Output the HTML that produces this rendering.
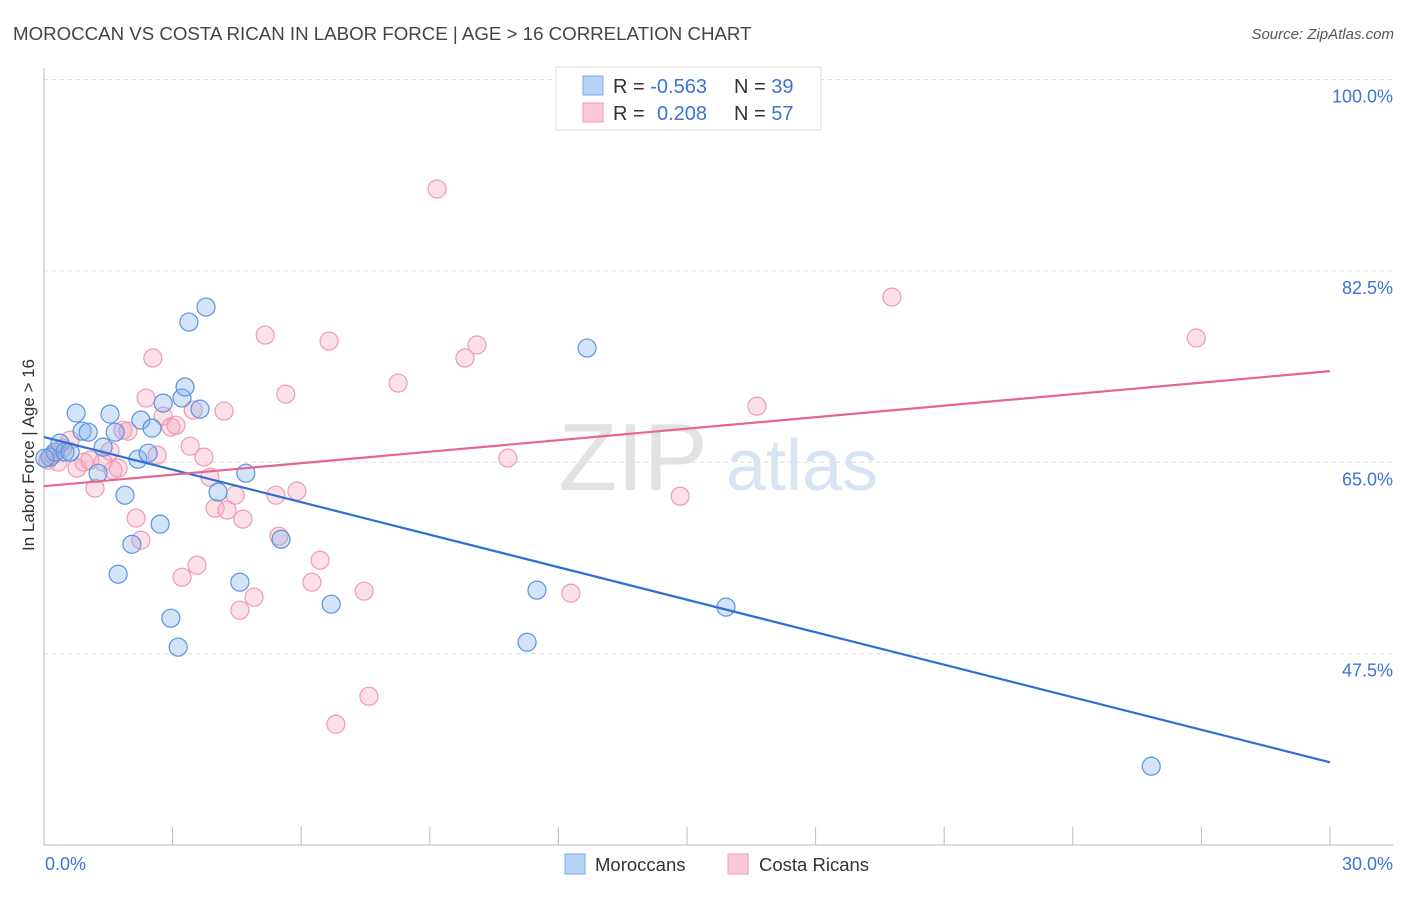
<!DOCTYPE html>
<html><head><meta charset="utf-8"><style>
body{margin:0;background:#fff;font-family:"Liberation Sans",sans-serif}
svg text{font-family:"Liberation Sans",sans-serif}
</style></head><body>
<svg id="chart" width="1406" height="892" viewBox="0 0 1406 892" xmlns="http://www.w3.org/2000/svg">
<text x="13" y="40" font-size="18.7" fill="#444">MOROCCAN VS COSTA RICAN IN LABOR FORCE | AGE &gt; 16 CORRELATION CHART</text>
<text x="1394" y="39" font-size="15" fill="#555" text-anchor="end" font-style="italic">Source: ZipAtlas.com</text>
<g>
<text x="633" y="490" font-size="96" fill="#e2e2e2" text-anchor="middle" font-family="Liberation Serif, serif">ZIP</text>
<text x="802" y="490" font-size="72" fill="#d8e4f4" text-anchor="middle">atlas</text>
</g>
<g id="grid"></g>
<g id="axes"></g>
<g id="marks"></g>
<text transform="translate(34,455) rotate(-90)" font-size="17" fill="#333" text-anchor="middle">In Labor Force | Age &gt; 16</text>
<g>
<rect x="556" y="67" width="265" height="63" fill="#fff" stroke="#ddd"/>
<rect x="583" y="76" width="20" height="19" fill="#b9d3f6" stroke="#7aa7e6"/>
<rect x="583" y="103" width="20" height="19" fill="#fcc9d7" stroke="#f09ab4"/>
<text x="613" y="93" font-size="20" fill="#333">R = <tspan fill="#3b74d6">-0.563</tspan><tspan x="734">N = </tspan><tspan fill="#3b74d6">39</tspan></text>
<text x="613" y="120" font-size="20" fill="#333">R = <tspan x="657" fill="#3b74d6">0.208</tspan><tspan x="734">N = </tspan><tspan fill="#3b74d6">57</tspan></text>
</g>
<g>
<rect x="565" y="854" width="20" height="20" fill="#b9d3f6" stroke="#7aa7e6"/>
<text x="595" y="871" font-size="18.5" fill="#333">Moroccans</text>
<rect x="728" y="854" width="20" height="20" fill="#fcc9d7" stroke="#f09ab4"/>
<text x="759" y="871" font-size="18.5" fill="#333">Costa Ricans</text>
</g>
</svg>
<script>
const yTicks=[47.5,65.0,82.5,100.0];
const yTickLabels=["47.5%","65.0%","82.5%","100.0%"];
const xLabels=["0.0%","30.0%"];
const blueX=[0.14,0.26,0.37,0.49,0.61,0.75,0.89,1.03,1.26,1.38,1.54,1.66,1.73,1.89,2.05,2.19,2.26,2.43,2.52,2.71,2.78,2.96,3.13,3.22,3.29,3.38,3.64,3.78,4.06,4.57,4.71,5.53,6.70,11.27,11.50,12.67,15.91,25.83,0.02];
const blueY=[65.47,65.93,66.75,65.93,65.93,69.5,67.84,67.75,64.0,66.38,69.4,67.75,54.76,61.99,57.5,65.28,68.85,65.83,68.12,59.34,70.41,50.74,48.09,70.87,71.88,77.82,69.86,79.19,62.27,54.03,64.0,57.96,52.02,48.54,53.3,75.44,51.75,37.2,65.37];
const pinkX=[0.09,0.21,0.33,0.44,0.61,0.77,0.93,1.07,1.19,1.38,1.54,1.61,1.73,1.84,1.96,2.15,2.26,2.38,2.54,2.64,2.78,2.96,3.08,3.22,3.41,3.48,3.57,3.73,3.87,3.99,4.2,4.27,4.46,4.57,4.64,4.9,5.16,5.41,5.48,5.64,5.90,6.25,6.44,6.65,6.81,7.47,7.58,8.26,9.17,9.82,10.1,10.82,12.29,14.84,16.63,19.78,26.88];
const pinkY=[65.19,65.65,65.01,66.29,67.02,64.46,65.01,65.19,62.63,65.01,66.02,64.28,64.46,67.93,67.84,59.89,57.87,70.87,74.53,65.65,69.22,68.21,68.39,54.49,66.47,69.77,55.59,65.47,63.64,60.8,69.68,60.62,61.99,51.47,59.8,52.66,76.63,61.99,58.24,71.23,62.36,54.03,56.04,76.08,41.04,53.21,43.6,72.24,89.99,74.53,75.72,65.38,53.03,61.9,70.13,80.1,76.36];
const blueTrend=[67.3,37.56];
const pinkTrend=[62.81,73.33];
const NS="http://www.w3.org/2000/svg";
const X0=44,X1=1330,Y0=845,Y1=79.5;
const xs=v=>X0+(v/30)*(X1-X0);
const ys=v=>Y0-(v-30)/70*(Y0-Y1);
function mk(tag,attrs,parent){const e=document.createElementNS(NS,tag);for(const k in attrs)e.setAttribute(k,attrs[k]);parent.appendChild(e);return e;}
const grid=document.getElementById('grid'),axes=document.getElementById('axes'),marks=document.getElementById('marks');
yTicks.forEach((t,i)=>{
  const l=mk('line',{x1:X0,x2:1393,y1:ys(t),y2:ys(t),stroke:'#ddd','stroke-dasharray':'4,4'},grid);
  
  
  const tx=mk('text',{x:1393,y:ys(t)+23,'font-size':18,fill:'#3b74d6','text-anchor':'end'},grid);
  tx.textContent=yTickLabels[i];
  
  
});
const ya=mk('line',{x1:X0,x2:X0,y1:68,y2:Y0,stroke:'#bbb'},axes);


const xa=mk('line',{x1:X0,x2:1393,y1:Y0,y2:Y0,stroke:'#bbb'},axes);


for(let i=0;i<=10;i++){
  const tk=mk('line',{x1:xs(i*3),x2:xs(i*3),y1:Y0,y2:827,stroke:'#bbb'},axes);
  
  
}
const xl0=mk('text',{x:45,y:870,'font-size':18,fill:'#3b74d6'},axes);xl0.textContent=xLabels[0];


const xl1=mk('text',{x:1393,y:870,'font-size':18,fill:'#3b74d6','text-anchor':'end'},axes);xl1.textContent=xLabels[1];


function pts(xa,ya,fill,stroke,name){
  xa.forEach((v,i)=>{
    const c=mk('circle',{cx:xs(v),cy:ys(ya[i]),r:9,fill:fill,stroke:stroke,'stroke-width':1.2},marks);
    
    
  });
}
pts(pinkX,pinkY,'rgba(247,165,190,0.35)','#ef9ab5','costa-rican-point');
pts(blueX,blueY,'rgba(130,175,235,0.35)','#5b93e0','moroccan-point');
const bl=mk('line',{x1:xs(0),x2:xs(30),y1:ys(blueTrend[0]),y2:ys(blueTrend[1]),stroke:'#2f6fd6','stroke-width':2.2},marks);


const pl=mk('line',{x1:xs(0),x2:xs(30),y1:ys(pinkTrend[0]),y2:ys(pinkTrend[1]),stroke:'#e5668f','stroke-width':2.2},marks);


</script>
</body></html>
